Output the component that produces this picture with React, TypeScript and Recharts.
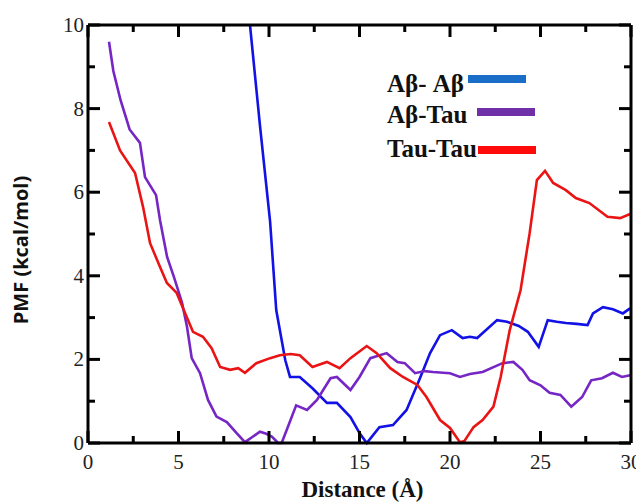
import React from "react";
import { LineChart, Line, XAxis, YAxis } from "recharts";

const abAbX = [8.95, 9.5, 10.06, 10.4, 10.9, 11.16, 11.7, 12.4, 13.2, 13.75, 14.5, 15.0, 15.4, 16.1, 16.85, 17.6, 18.3, 18.9, 19.45, 20.1, 20.7, 21.1, 21.5, 22.6, 23.15, 23.8, 24.3, 24.9, 25.4, 25.9, 26.4, 27.0, 27.6, 27.9, 28.45, 29.0, 29.55, 29.95];
const abAbY = [10, 7.6, 5.3, 3.18, 1.98, 1.58, 1.58, 1.31, 0.96, 0.96, 0.62, 0.24, 0.0, 0.38, 0.43, 0.79, 1.51, 2.15, 2.58, 2.7, 2.51, 2.54, 2.51, 2.94, 2.9, 2.8, 2.66, 2.3, 2.94, 2.9, 2.87, 2.85, 2.82, 3.1, 3.25, 3.2, 3.1, 3.22];

const abTauX = [1.16, 1.4, 1.8, 2.3, 2.87, 3.15, 3.76, 3.98, 4.37, 4.75, 5.2, 5.47, 5.73, 6.19, 6.63, 7.1, 7.67, 8.2, 8.67, 9.1, 9.5, 9.85, 10.17, 10.5, 10.7, 11.1, 11.5, 12.1, 12.65, 13.4, 13.75, 14.5, 15.0, 15.6, 16.5, 17.1, 17.5, 18.07, 18.6, 19.06, 20.0, 20.55, 21.1, 21.8, 22.9, 23.5, 24.0, 24.4, 25.0, 25.5, 26.1, 26.7, 27.3, 27.8, 28.4, 29.0, 29.5, 29.95];
const abTauY = [9.6, 8.9, 8.2, 7.5, 7.18, 6.36, 5.93, 5.33, 4.45, 3.97, 3.35, 2.78, 2.03, 1.67, 1.03, 0.63, 0.5, 0.24, 0.02, 0.15, 0.27, 0.22, 0.15, 0.0, 0.0, 0.45, 0.9, 0.79, 1.03, 1.55, 1.58, 1.27, 1.58, 2.03, 2.15, 1.94, 1.91, 1.67, 1.72, 1.7, 1.67, 1.58, 1.65, 1.7, 1.91, 1.94, 1.75, 1.5, 1.38, 1.2, 1.15, 0.87, 1.1, 1.5, 1.55, 1.68, 1.58, 1.62];

const tauTauX = [1.16, 1.77, 2.6, 3.04, 3.43, 3.98, 4.36, 4.9, 5.36, 5.8, 6.35, 6.83, 7.3, 7.85, 8.3, 8.67, 9.3, 10.06, 10.6, 11.2, 11.7, 12.4, 13.2, 13.9, 14.5, 15.4, 15.95, 16.7, 17.4, 18.2, 18.7, 19.45, 20.0, 20.55, 20.8, 21.3, 21.8, 22.4, 22.8, 23.3, 23.9, 24.4, 24.8, 25.25, 25.7, 26.4, 26.95, 27.7, 28.7, 29.4, 29.95];
const tauTauY = [7.68, 7.0, 6.46, 5.65, 4.78, 4.21, 3.83, 3.59, 3.11, 2.66, 2.54, 2.27, 1.82, 1.75, 1.79, 1.68, 1.91, 2.03, 2.1, 2.13, 2.1, 1.82, 1.94, 1.79, 2.03, 2.32, 2.15, 1.79, 1.58, 1.39, 1.1, 0.55, 0.36, 0.02, 0.05, 0.38, 0.55, 0.87, 1.58, 2.7, 3.66, 5.02, 6.29, 6.51, 6.22, 6.05, 5.86, 5.74, 5.41, 5.38, 5.48];

const xTicks = [0, 2.5, 5, 7.5, 10, 12.5, 15, 17.5, 20, 22.5, 25, 27.5, 30];
const yTicks = [0, 1, 2, 3, 4, 5, 6, 7, 8, 9, 10];

const seriesNames = ["Aβ- Aβ", "Aβ-Tau", "Tau-Tau"];
const lineColors = ["#1212e6", "#7526c4", "#ea1414"];
const legendColors = ["#1a6ec8", "#7030a8", "#ff0a0a"];

// chart-level table built from the arrays above
const table: any[] = [];
abAbX.forEach((x, i) => table.push({ x, ab: abAbY[i] }));
abTauX.forEach((x, i) => table.push({ x, at: abTauY[i] }));
tauTauX.forEach((x, i) => table.push({ x, tt: tauTauY[i] }));
table.sort((a, b) => a.x - b.x);

const SERIF = "Liberation Serif";
const W = 636;
const H = 496;
const M = { top: 17, right: 13, left: 10, bottom: 0 };
const YW = 70;
const XH = 61;
const PLOT_W = W - M.left - YW - M.right;
const PLOT_H = H - M.top - XH - M.bottom;
const OFF = 8;

const bottomTick = (props: any) => {
  const { x, y, payload } = props;
  const ay = y - OFF;
  const major = payload.value % 5 === 0;
  const len = major ? 12 : 7;
  return (
    <g>
      {payload.value === 0 && <line x1={x} x2={x + PLOT_W} y1={ay - PLOT_H} y2={ay - PLOT_H} stroke="#000" strokeWidth={3} />}
      <line x1={x} x2={x} y1={ay} y2={ay - len} stroke="#000" strokeWidth={3} />
      <line x1={x} x2={x} y1={ay - PLOT_H} y2={ay - PLOT_H + len} stroke="#000" strokeWidth={3} />
      {major && (
        <text x={x} y={ay + 26} textAnchor="middle" fontFamily={SERIF} fontSize={21} fill="#222">
          {payload.value}
        </text>
      )}
    </g>
  );
};

const leftTick = (props: any) => {
  const { x, y, payload } = props;
  const ax = x + OFF;
  const major = payload.value % 2 === 0;
  const len = major ? 12 : 7;
  return (
    <g>
      {payload.value === 0 && <line x1={ax + PLOT_W} x2={ax + PLOT_W} y1={y} y2={y - PLOT_H} stroke="#000" strokeWidth={3} />}
      <line x1={ax} x2={ax + len} y1={y} y2={y} stroke="#000" strokeWidth={3} />
      <line x1={ax + PLOT_W} x2={ax + PLOT_W - len} y1={y} y2={y} stroke="#000" strokeWidth={3} />
      {major && (
        <text x={ax - 4} y={y + 7} textAnchor="end" fontFamily={SERIF} fontSize={21} fill="#222">
          {payload.value}
        </text>
      )}
    </g>
  );
};

const legendRows = [
  { ty: 84, bx: 460, by: 71 },
  { ty: 115, bx: 469, by: 104 },
  { ty: 149, bx: 470, by: 142 },
];

export default function App() {
  return (
    <div style={{ position: "relative", width: W, height: H }}>
      <LineChart width={W} height={H} margin={M} data={table}>
        <XAxis
          type="number"
          dataKey="x"
          domain={[0, 30]}
          ticks={xTicks}
          height={XH}
          tickLine={false}
          stroke="#000"
          strokeWidth={3}
          tick={bottomTick}
          label={{
            content: (p: any) => (
              <text x={p.viewBox.x + p.viewBox.width / 2 + 3} y={p.viewBox.y + 54} textAnchor="middle" fontFamily={SERIF} fontWeight="bold" fontSize={23} fill="#111">
                Distance (Å)
              </text>
            ),
          }}
        />
        <YAxis
          type="number"
          domain={[0, 10]}
          ticks={yTicks}
          width={YW}
          tickLine={false}
          stroke="#000"
          strokeWidth={3}
          tick={leftTick}
          label={{
            content: (p: any) => {
              const cx = p.viewBox.x + 10;
              const cy = p.viewBox.y + p.viewBox.height / 2 + 16;
              return (
                <text x={cx} y={cy} transform={`rotate(-90 ${cx} ${cy})`} textAnchor="middle" fontFamily="Open Sans" fontWeight="bold" fontSize={20} fill="#111">
                  PMF (kcal/mol)
                </text>
              );
            },
          }}
        />
        <Line dataKey="ab" name={seriesNames[0]} stroke={lineColors[0]} strokeWidth={2.6} dot={false} connectNulls isAnimationActive={false} type="linear" />
        <Line dataKey="at" name={seriesNames[1]} stroke={lineColors[1]} strokeWidth={2.6} dot={false} connectNulls isAnimationActive={false} type="linear" />
        <Line dataKey="tt" name={seriesNames[2]} stroke={lineColors[2]} strokeWidth={2.6} dot={false} connectNulls isAnimationActive={false} type="linear" />
      </LineChart>
      <svg width={W} height={H} style={{ position: "absolute", left: 0, top: 0, pointerEvents: "none" }}>
        {legendRows.map((p, i) => (
          <g key={i}>
            <text x={379} y={p.ty} fontFamily={SERIF} fontWeight="bold" fontSize={25} fill="#111">
              {seriesNames[i]}
            </text>
            <rect x={p.bx} y={p.by - 4} width={58} height={8} fill={legendColors[i]} />
          </g>
        ))}
      </svg>
    </div>
  );
}
